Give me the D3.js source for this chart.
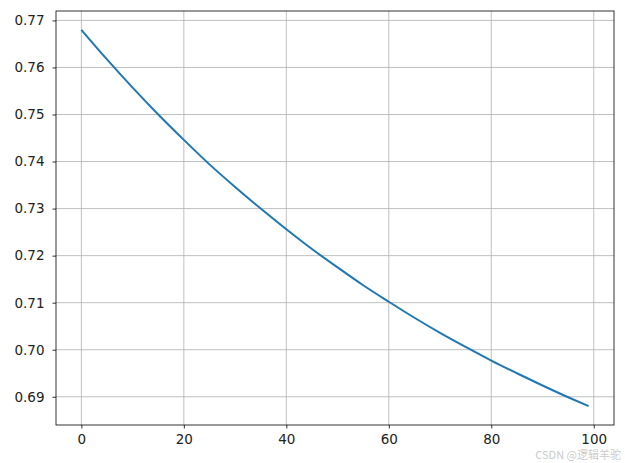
<!DOCTYPE html>
<html>
<head>
<meta charset="utf-8">
<script src="https://cdn.jsdelivr.net/npm/d3@7"></script>
<style>
  html, body { margin: 0; padding: 0; background: #fff; }
  svg { display: block; }
</style>
</head>
<body>
<svg id="chart" width="625" height="463"></svg>
<script>
// values
const xSteps = [0, 5, 10, 15, 20, 25, 30, 35, 40, 45, 50, 55, 60, 65, 70, 75, 80, 85, 90, 95, 99];
const ySeries = [0.7680, 0.7617, 0.7557, 0.7500, 0.7446, 0.7394, 0.7346, 0.7300, 0.7256, 0.7214,
                 0.7175, 0.7137, 0.7102, 0.7068, 0.7036, 0.7006, 0.6977, 0.6950, 0.6924, 0.6899, 0.6880];
const xTicks = [0, 20, 40, 60, 80, 100];
const yTicks = [0.69, 0.70, 0.71, 0.72, 0.73, 0.74, 0.75, 0.76, 0.77];
const watermark = "CSDN @逻辑羊驼";

const data = xSteps.map((x, i) => ({ x: x, y: ySeries[i] }));

const margin = { top: 11, right: 11, bottom: 38, left: 56 };
const fullWidth = 625, fullHeight = 463;
const width = fullWidth - margin.left - margin.right;
const height = fullHeight - margin.top - margin.bottom;

const svg = d3.select("#chart")
    .append("g")
    .attr("transform", `translate(${margin.left},${margin.top})`);

// matplotlib style 5% margins
const xMin = d3.min(xSteps), xMax = d3.max(xSteps);
const yMin = d3.min(ySeries), yMax = d3.max(ySeries);
const xPad = (xMax - xMin) * 0.05, yPad = (yMax - yMin) * 0.05;

const x = d3.scaleLinear().domain([xMin - xPad, xMax + xPad]).range([0, width]);
const y = d3.scaleLinear().domain([yMin - yPad, yMax + yPad]).range([height, 0]);

// grid
svg.append("g").selectAll("line")
    .data(xTicks)
    .enter().append("line")
    .attr("x1", d => x(d)).attr("x2", d => x(d))
    .attr("y1", 0).attr("y2", height)
    .style("stroke", "#b0b0b0").style("stroke-width", 0.8);

svg.append("g").selectAll("line")
    .data(yTicks)
    .enter().append("line")
    .attr("x1", 0).attr("x2", width)
    .attr("y1", d => y(d)).attr("y2", d => y(d))
    .style("stroke", "#b0b0b0").style("stroke-width", 0.8);

// line
const line = d3.line()
    .x(d => x(d.x))
    .y(d => y(d.y))
    .curve(d3.curveMonotoneX);

svg.append("path")
    .datum(data)
    .attr("d", line)
    .style("fill", "none")
    .style("stroke", "#1f77b4")
    .style("stroke-width", 2);

// axes
const xAxis = svg.append("g")
    .attr("transform", `translate(0,${height})`)
    .call(d3.axisBottom(x).tickValues(xTicks).tickSize(3.5).tickPadding(6).tickFormat(d3.format("d")));

const yAxis = svg.append("g")
    .call(d3.axisLeft(y).tickValues(yTicks).tickSize(3.5).tickPadding(8).tickFormat(d3.format(".2f")));

[xAxis, yAxis].forEach(g => {
    g.select(".domain").remove();
    g.selectAll(".tick line").style("stroke", "#000").style("stroke-width", 0.8);
    g.selectAll("text")
        .style("fill", "#222")
        .style("font-family", "DejaVu Sans, sans-serif")
        .style("font-size", "13.5px");
});

// frame
svg.append("rect")
    .attr("x", 0).attr("y", 0)
    .attr("width", width).attr("height", height)
    .style("fill", "none")
    .style("stroke", "#000")
    .style("stroke-width", 0.8);

// watermark
d3.select("#chart").append("text")
    .attr("x", 621)
    .attr("y", 458.5)
    .attr("text-anchor", "end")
    .style("font-family", "Noto Sans CJK SC, sans-serif")
    .style("font-size", "11px")
    .style("fill", "#c4c4c4")
    .style("fill-opacity", 0.9)
    .text(watermark);
</script>
</body>
</html>
